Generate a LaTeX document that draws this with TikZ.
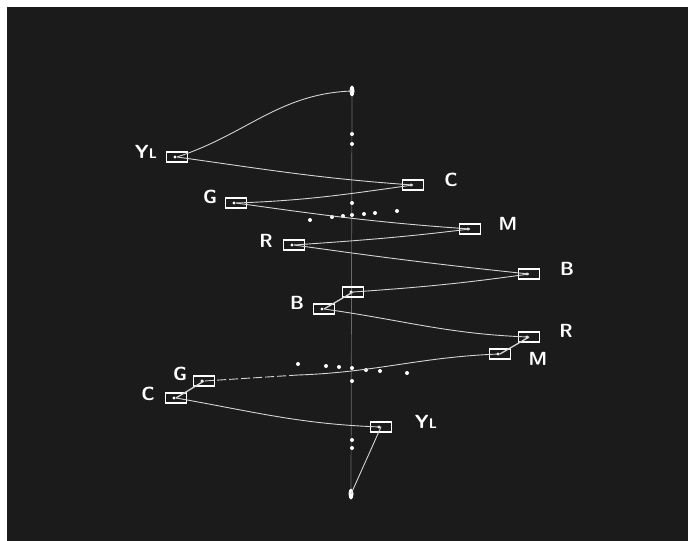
\documentclass[tikz,border=0pt]{standalone}
\usepackage{tikz}
\usetikzlibrary{positioning,shapes.geometric}
\definecolor{scopebg}{HTML}{1B1B1B}
\definecolor{trace}{HTML}{D4D4D4}
\definecolor{gridline}{HTML}{6A6A6A}
\newcommand{\lsubfont}{\fontsize{14}{14}\selectfont}
\tikzset{
  vec/.style={rectangle,draw=white,line width=1.4pt,minimum width=21pt,minimum height=10pt,inner sep=0pt,
    path picture={\fill[white] ([xshift=-2pt]path picture bounding box.center) circle (1.7pt);}},
  lbl/.style={text=white,font=\sffamily\bfseries\fontsize{19}{19}\selectfont},
  tr/.style={trace,line width=0.9pt},
  axisline/.style={gridline,line width=0.7pt},
  gdot/.style={circle,fill=white,inner sep=0pt,minimum size=4pt},
  blob/.style={ellipse,fill=white,inner sep=0pt,minimum width=5pt,minimum height=11pt},
}
\begin{document}
\begin{tikzpicture}[x=1pt,y=-1pt]
    \useasboundingbox (0,0) rectangle (691,541);
    \fill[scopebg] (7,7) rectangle (688,541);
    % end points on the axis
    \node[blob] (top) at (352,91) {};
    \node[blob] (bot) at (351,494) {};
    \draw[axisline] (top) -- (bot);
    % graticule dots
    \foreach \y in {134,144,203,381,440,448} \node[gdot] at (352,\y) {};
    \foreach \x/\y in {310/220,332/217,343/216,352/215,364/214,375/213,397/211} \node[gdot] at (\x,\y) {};
    \foreach \x/\y in {298/364,326/366,339/367,352/368,366/370,380/371,407/373} \node[gdot] at (\x,\y) {};
    % vector boxes
    \node[vec] (ylA) at (177,157) {};
    \node[vec] (cA) at (413,185) {};
    \node[vec] (gA) at (236,203) {};
    \node[vec] (mA) at (470,229) {};
    \node[vec] (rA) at (294,245) {};
    \node[vec] (bA) at (529,274) {};
    \node[vec] (bB) at (353,292) {};
    \node[vec] (bC) at (324,309) {};
    \node[vec] (rB) at (529,337) {};
    \node[vec] (mB) at (500,354) {};
    \node[vec] (gB) at (204,381) {};
    \node[vec] (cB) at (176,398) {};
    \node[vec] (ylB) at (381,427) {};
    \coordinate (gdash) at (298,375);
    % trace
    \draw[tr] (top.center) to[out=182,in=18] (ylA.center);
    \draw[tr] (ylA.center) to[out=-8,in=176] (cA.center);
    \draw[tr] (cA.center) to[out=188,in=2] (gA.center);
    \draw[tr] (gA.center) to[out=-8,in=176] (mA.center);
    \draw[tr] (mA.center) to[out=187,in=4] (rA.center);
    \draw[tr] (rA.center) to[out=-8,in=174] (bA.center);
    \draw[tr] (bA.center) to[out=188,in=4] (bB.center);
    \draw[tr,line width=1.3pt] (bB.center) -- (bC.center);
    \draw[tr] (bC.center) to[out=-8,in=178] (rB.center);
    \draw[tr,line width=1.3pt] (rB.center) -- (mB.center);
    \draw[tr] (mB.center) to[out=182,in=2] (gdash);
    \draw[tr,dash pattern=on 9pt off 3pt] (gdash) -- (gB.center);
    \draw[tr,line width=1.3pt] (gB.center) -- (cB.center);
    \draw[tr] (cB.center) to[out=-10,in=178] (ylB.center);
    \draw[tr] (ylB.center) -- (bot.center);
    % labels
    \node[lbl] (lylA) at (146,152) {Y{\lsubfont L}};
    \node[lbl] (lcA) at (451,180) {C};
    \node[lbl] (lgA) at (210,197) {G};
    \node[lbl] (lmA) at (508,224) {M};
    \node[lbl] (lrA) at (266,241) {R};
    \node[lbl] (lbA) at (567,269) {B};
    \node[lbl] (lbC) at (297,303) {B};
    \node[lbl] (lrB) at (566,331) {R};
    \node[lbl] (lmB) at (538,359) {M};
    \node[lbl] (lgB) at (180,374) {G};
    \node[lbl] (lcB) at (148,394) {C};
    \node[lbl] (lylB) at (426,422) {Y{\lsubfont L}};
  \end{tikzpicture}
\end{document}
